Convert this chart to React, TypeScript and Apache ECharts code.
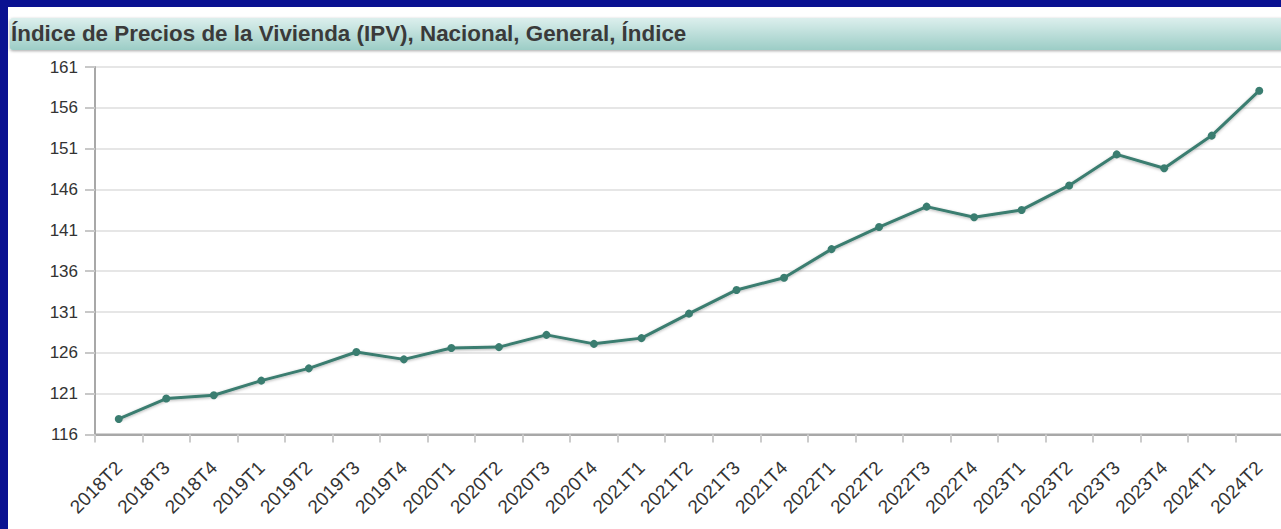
import React, { useEffect, useRef } from "react";
import * as echarts from "echarts";

const titleText = "Índice de Precios de la Vivienda (IPV), Nacional, General, Índice";
const categories = [
  "2018T2", "2018T3", "2018T4",
  "2019T1", "2019T2", "2019T3", "2019T4",
  "2020T1", "2020T2", "2020T3", "2020T4",
  "2021T1", "2021T2", "2021T3", "2021T4",
  "2022T1", "2022T2", "2022T3", "2022T4",
  "2023T1", "2023T2", "2023T3", "2023T4",
  "2024T1", "2024T2",
];
const ipvValues = [
  117.9, 120.4, 120.8,
  122.6, 124.1, 126.1, 125.2,
  126.6, 126.7, 128.2, 127.1,
  127.8, 130.8, 133.7, 135.2,
  138.7, 141.4, 143.9, 142.6,
  143.5, 146.5, 150.3, 148.6,
  152.6, 158.1,
];
const yMin = 116;
const yMax = 161;
const yStep = 5;

const W = 1300;
const H = 529;

export default function App() {
  const ref = useRef<HTMLDivElement>(null);
  useEffect(() => {
    if (!ref.current) return;
    const chart = echarts.init(ref.current, undefined, { renderer: "svg" });
    chart.setOption({
      animation: false,
      backgroundColor: "transparent",
      textStyle: { fontFamily: "Liberation Sans, Arial, sans-serif" },
      graphic: [
        {
          type: "rect",
          silent: true,
          z: -10,
          shape: { x: 8, y: 7, width: W, height: H },
          style: { fill: "#ffffff" },
        },
        {
          type: "rect",
          silent: true,
          z: -9,
          shape: { x: 10, y: 18, width: W, height: 32, r: 3 },
          style: {
            fill: new echarts.graphic.LinearGradient(0, 0, 0, 1, [
              { offset: 0, color: "#dcefed" },
              { offset: 1, color: "#9ccdc6" },
            ]),
            shadowBlur: 3,
            shadowColor: "rgba(0,0,0,0.35)",
            shadowOffsetY: 1,
          },
        },
      ],
      title: {
        text: titleText,
        left: 11,
        top: 22,
        padding: 0,
        textStyle: {
          fontFamily: "Liberation Sans, Arial, sans-serif",
          fontSize: 22.4,
          fontWeight: "bold",
          color: "#3a3a3a",
        },
      },
      grid: {
        left: 95,
        top: 67,
        right: W - 1283,
        bottom: H - 434.5,
        show: true,
        borderColor: "#a8a8a8",
        borderWidth: 2,
        backgroundColor: "transparent",
      },
      xAxis: {
        type: "category",
        data: categories,
        boundaryGap: true,
        axisLine: { lineStyle: { color: "#a8a8a8", width: 2 } },
        axisTick: { show: true, length: 8, lineStyle: { color: "#cccccc", width: 2 } },
        axisLabel: {
          rotate: 45,
          interval: 0,
          margin: 30,
          fontSize: 19,
          color: "#333333",
          fontFamily: "Liberation Sans, Arial, sans-serif",
        },
        splitLine: { show: false },
      },
      yAxis: {
        type: "value",
        min: yMin,
        max: yMax,
        interval: yStep,
        axisLine: { show: true, lineStyle: { color: "#a8a8a8", width: 2 } },
        axisTick: { show: true, length: 10, lineStyle: { color: "#c8c8c8", width: 2 } },
        axisLabel: {
          margin: 17,
          fontSize: 17,
          color: "#333333",
          fontFamily: "Liberation Sans, Arial, sans-serif",
        },
        splitLine: { show: true, lineStyle: { color: "#e6e6e6", width: 2 } },
      },
      series: [
        {
          type: "line",
          data: ipvValues,
          symbol: "circle",
          symbolSize: 8,
          itemStyle: { color: "#3a7d70" },
          lineStyle: {
            color: "#3a7d70",
            width: 3,
            shadowBlur: 3,
            shadowColor: "rgba(0,0,0,0.3)",
            shadowOffsetY: 1,
          },
        },
      ],
    });
    return () => chart.dispose();
  }, []);
  return (
    <div
      style={{
        position: "fixed",
        left: 0,
        top: 0,
        width: 1281,
        height: 529,
        overflow: "hidden",
        background: "#0a1191",
      }}
    >
      <div ref={ref} style={{ position: "absolute", left: 0, top: 0, width: W, height: H }} />
    </div>
  );
}
